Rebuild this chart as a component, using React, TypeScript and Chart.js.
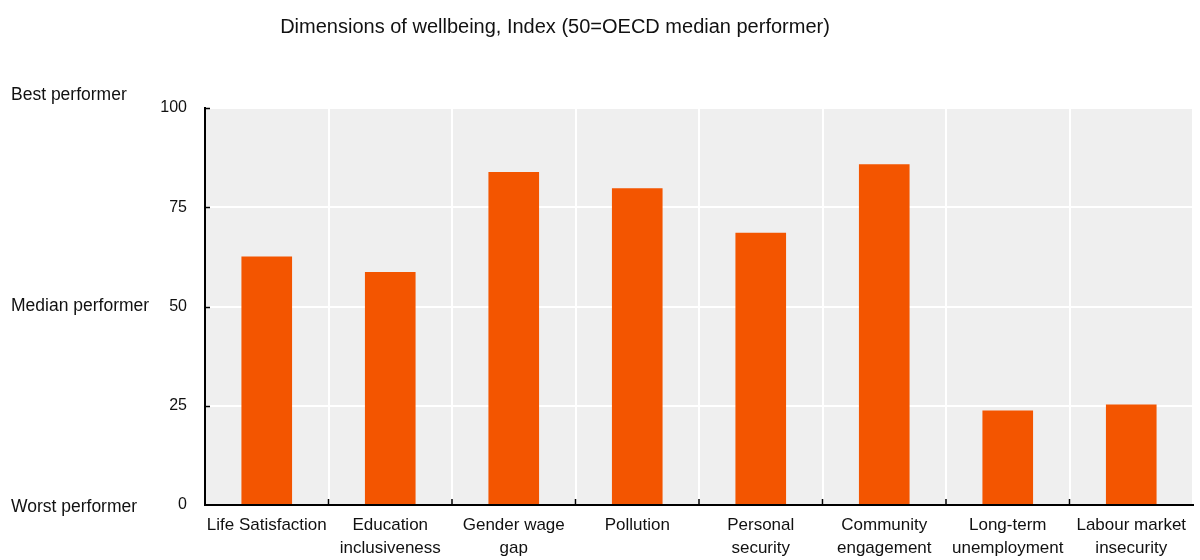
import React, { useEffect, useRef } from "react";
import { Chart, registerables } from "chart.js";

Chart.register(...registerables);

const categories: (string | string[])[] = [
  "Life Satisfaction",
  ["Education", "inclusiveness"],
  ["Gender wage", "gap"],
  "Pollution",
  ["Personal", "security"],
  ["Community", "engagement"],
  ["Long-term", "unemployment"],
  ["Labour market", "insecurity"],
];
const values = [62.6, 58.7, 83.9, 79.8, 68.6, 85.8, 23.8, 25.3];
const yTicks = [0, 25, 50, 75, 100];
const sideLabels = [
  { value: 100, text: "Best performer" },
  { value: 50, text: "Median performer" },
  { value: 0, text: "Worst performer" },
];
const title = "Dimensions of wellbeing, Index (50=OECD median performer)";

const FONT = "'Liberation Sans', Arial, sans-serif";

export default function App() {
  const ref = useRef<HTMLCanvasElement>(null);
  useEffect(() => {
    if (!ref.current) return;
    const decor = {
      id: "decor",
      beforeDraw(chart: any) {
        const { ctx, chartArea } = chart;
        ctx.save();
        ctx.fillStyle = "#EFEFEF";
        ctx.fillRect(chartArea.left, chartArea.top, chartArea.right - chartArea.left, chartArea.bottom - chartArea.top);
        ctx.restore();
      },
      afterDraw(chart: any) {
        const { ctx, chartArea, scales } = chart;
        const y = scales.y;
        const x = scales.x;
        ctx.save();
        // title
        ctx.fillStyle = "#111";
        ctx.font = `20px ${FONT}`;
        ctx.textAlign = "center";
        ctx.textBaseline = "middle";
        ctx.fillText(title, 555, 27);
        // side labels
        ctx.font = `17.5px ${FONT}`;
        ctx.textAlign = "left";
        for (const s of sideLabels) {
          let py = y.getPixelForValue(s.value);
          if (s.value === 100) py -= 13;
          if (s.value === 0) py += 2;
          ctx.fillText(s.text, 11, py);
        }
        // inward ticks
        ctx.strokeStyle = "#000";
        ctx.lineWidth = 1.5;
        ctx.beginPath();
        for (const t of yTicks) {
          if (t === 0) continue;
          const py = Math.round(y.getPixelForValue(t)) + 0.5;
          ctx.moveTo(chartArea.left, py);
          ctx.lineTo(chartArea.left + 5, py);
        }
        const n = categories.length;
        for (let i = 1; i < n; i++) {
          const px = (x.getPixelForValue(i - 1) + x.getPixelForValue(i)) / 2;
          ctx.moveTo(px, chartArea.bottom);
          ctx.lineTo(px, chartArea.bottom - 6);
        }
        ctx.stroke();
        ctx.restore();
      },
    };
    const chart = new Chart(ref.current, {
      type: "bar",
      data: {
        labels: categories,
        datasets: [
          {
            data: values,
            backgroundColor: "#F35500",
            borderWidth: 0,
            barPercentage: 0.41,
            categoryPercentage: 1,
          },
        ],
      },
      options: {
        animation: false,
        responsive: false,
        maintainAspectRatio: false,
        layout: { padding: { top: 108, right: 7, bottom: 0, left: 0 } },
        plugins: {
          legend: { display: false },
          tooltip: { enabled: false },
          title: { display: false },
        },
        scales: {
          x: {
            offset: true,
            grid: { offset: true, color: "#FFFFFF", lineWidth: 2, drawTicks: false },
            border: { display: true, color: "#000", width: 2 },
            ticks: {
              color: "#111",
              font: { family: FONT, size: 17, lineHeight: 1.4 },
              padding: 8,
              maxRotation: 0,
              autoSkip: false,
            },
            afterFit: (s: any) => {
              s.height = 55;
            },
          },
          y: {
            min: 0,
            max: 100,
            afterBuildTicks: (s: any) => {
              s.ticks = yTicks.map((v) => ({ value: v }));
            },
            grid: { color: "#FFFFFF", lineWidth: 2, drawTicks: false },
            border: { display: true, color: "#000", width: 2 },
            ticks: {
              color: "#111",
              font: { family: FONT, size: 16 },
              padding: 18,
            },
            afterFit: (s: any) => {
              s.width = 205;
            },
          },
        },
      },
      plugins: [decor],
    });
    return () => chart.destroy();
  }, []);
  return (
    <div style={{ position: "fixed", left: 0, top: 0, width: 1200, height: 560, background: "#fff" }}>
      <canvas ref={ref} width={1200} height={560} style={{ width: 1200, height: 560 }} />
    </div>
  );
}
